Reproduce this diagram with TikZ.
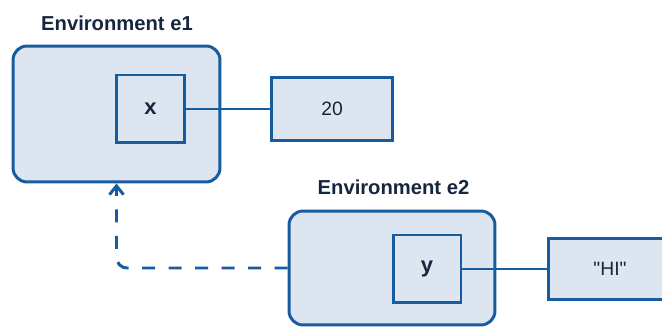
\documentclass[tikz,border=0pt]{standalone}
\usepackage{fontspec}
\setmainfont{Liberation Sans}
\newfontfamily\valfont{Liberation Sans}
\usetikzlibrary{arrows.meta}
\definecolor{envblue}{RGB}{24,92,160}
\definecolor{envfill}{RGB}{221,229,240}
\definecolor{envtext}{RGB}{22,38,62}
\tikzset{
	envbox/.style={draw=envblue,fill=envfill,line width=1.7pt,rounded corners=8pt,inner sep=0pt},
	varbox/.style={draw=envblue,fill=envfill,line width=1.7pt,inner sep=0pt,text=envtext,font=\fontsize{12.5}{14}\selectfont\bfseries},
	valbox/.style={draw=envblue,fill=envfill,line width=1.7pt,inner sep=0pt,text=envtext,font=\valfont\fontsize{11}{13}\selectfont},
	envlabel/.style={text=envtext,font=\fontsize{11.5}{13}\selectfont\bfseries},
	link/.style={draw=envblue,line width=1.7pt}
}

\begin{document}
\begin{tikzpicture}[x=0.02cm,y=-0.02cm]
			\useasboundingbox (0,0) rectangle (662,327);
			\clip (0,0) rectangle (662,327);
			\coordinate (c_e1) at (116.5,114);
			\coordinate (c_e2) at (392,268);
			\coordinate (c_x) at (150.5,109);
			\coordinate (c_y) at (427,269);
			\coordinate (c_num) at (332,109);
			\coordinate (c_str) at (610,269);
			\node[envlabel] (lab_e1) at (117,23) {Environment e1};
			\node[envlabel] (lab_e2) at (393.5,187) {Environment e2};
			\node[envbox,minimum width=4.14cm,minimum height=2.72cm] (e1) at (c_e1) {};
			\node[envbox,minimum width=4.12cm,minimum height=2.28cm] (e2) at (c_e2) {};
			\node[varbox,minimum width=1.36cm,minimum height=1.36cm] (x) at (c_x) {x};
			\node[varbox,minimum width=1.36cm,minimum height=1.36cm] (y) at (c_y) {y};
			\node[valbox,minimum width=2.42cm,minimum height=1.26cm] (num) at (c_num) {20};
			\node[valbox,minimum width=2.48cm,minimum height=1.22cm] (str) at (c_str) {"HI"};
			\draw[link] (x.east) -- (num.west);
			\draw[link] (y.east) -- (str.west);
			\draw[link,dash pattern=on 0.26cm off 0.27cm,rounded corners=6pt,-{Straight Barb[length=5pt,width=8pt]}] (e2.west) -| (e1.south);
		\end{tikzpicture}
\end{document}
